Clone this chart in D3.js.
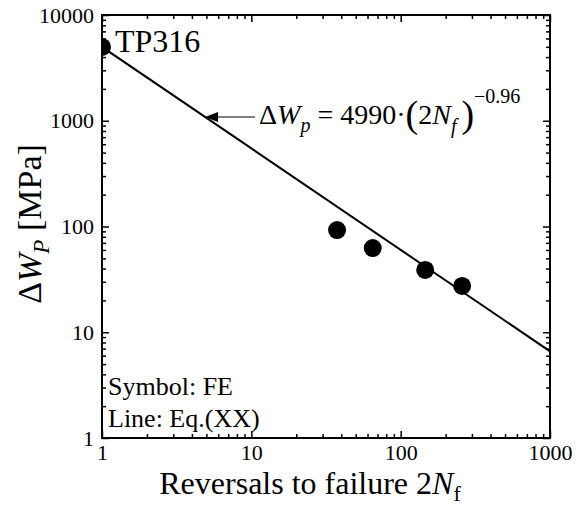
<!DOCTYPE html>
<html>
<head>
<meta charset="utf-8">
<script src="https://cdn.jsdelivr.net/npm/d3@7"></script>
<style>
  body { margin: 0; background: #fff; }
  svg text { font-family: "Liberation Serif", "Times New Roman", Times, serif; fill: #000; }
</style>
</head>
<body>
<svg id="chart" width="577" height="510"></svg>
<script>
// reversals to failure 2Nf and plastic strain energy (FE results)
const reversals = [1, 37.5, 65, 146, 258];
const energy = [4990, 92.5, 62.5, 38.8, 27.4];

// Eq.(XX) line, endpoints
const fitReversals = [1, 1000];
const fitEnergy = [4990, 6.6];

const xMajor = [1, 10, 100, 1000];
const yMajor = [1, 10, 100, 1000, 10000];

// arrow target on the fitted line
const arrowAt = [4.9, 1085];

const serif = "'Liberation Serif', 'Times New Roman', Times, serif";

const margin = { top: 15, right: 27, bottom: 72, left: 102 };
const width = 577, height = 510;
const innerW = width - margin.left - margin.right;
const innerH = height - margin.top - margin.bottom;

const svg = d3.select("#chart");
const g = svg.append("g")
  .attr("transform", "translate(" + margin.left + "," + margin.top + ")");

const x = d3.scaleLog().domain([1, 1000]).range([0, innerW]);
const y = d3.scaleLog().domain([1, 10000]).range([innerH, 0]);

// minor ticks 2..9 in each decade
function minors(majors) {
  let out = [];
  for (let i = 0; i < majors.length - 1; i++) {
    for (let k = 2; k < 10; k++) out.push(majors[i] * k);
  }
  return out;
}
const xMinor = minors(xMajor);
const yMinor = minors(yMajor);

function styleAxis(sel) {
  sel.attr("font-family", serif).attr("font-size", 22);
  sel.select(".domain").remove();
  sel.selectAll("line").attr("stroke", "#000").attr("stroke-width", 1.5);
  sel.selectAll("text")
    .style("font-family", serif)
    .style("font-size", "22px")
    .attr("fill", "#000");
}

// bottom
g.append("g").attr("transform", "translate(0," + innerH + ")")
  .call(d3.axisBottom(x).tickValues(xMajor).tickSize(-7).tickPadding(6).tickFormat(d3.format("d")))
  .call(styleAxis);
g.append("g").attr("transform", "translate(0," + innerH + ")")
  .call(d3.axisBottom(x).tickValues(xMinor).tickSize(-4).tickFormat(""))
  .call(styleAxis);
// top
g.append("g")
  .call(d3.axisTop(x).tickValues(xMajor).tickSize(-7).tickFormat(""))
  .call(styleAxis);
g.append("g")
  .call(d3.axisTop(x).tickValues(xMinor).tickSize(-4).tickFormat(""))
  .call(styleAxis);
// left
g.append("g")
  .call(d3.axisLeft(y).tickValues(yMajor).tickSize(-7).tickPadding(8).tickFormat(d3.format("d")))
  .call(styleAxis);
g.append("g")
  .call(d3.axisLeft(y).tickValues(yMinor).tickSize(-4).tickFormat(""))
  .call(styleAxis);
// right
g.append("g").attr("transform", "translate(" + innerW + ",0)")
  .call(d3.axisRight(y).tickValues(yMajor).tickSize(-7).tickFormat(""))
  .call(styleAxis);
g.append("g").attr("transform", "translate(" + innerW + ",0)")
  .call(d3.axisRight(y).tickValues(yMinor).tickSize(-4).tickFormat(""))
  .call(styleAxis);

// clip to the plot box
svg.append("defs").append("clipPath").attr("id", "plotClip")
  .append("rect").attr("width", innerW).attr("height", innerH);

const plot = g.append("g").attr("clip-path", "url(#plotClip)");

plot.append("path")
  .datum(fitReversals.map((d, i) => [d, fitEnergy[i]]))
  .attr("fill", "none")
  .attr("stroke", "#000")
  .attr("stroke-width", 2)
  .attr("d", d3.line().x(d => x(d[0])).y(d => y(d[1])));

plot.selectAll(".pt")
  .data(reversals.map((d, i) => [d, energy[i]]))
  .enter()
  .append("circle")
  .attr("class", "pt")
  .attr("cx", d => x(d[0]))
  .attr("cy", d => y(d[1]))
  .attr("r", 9)
  .attr("fill", "#000");

// frame
g.append("rect")
  .attr("width", innerW).attr("height", innerH)
  .attr("fill", "none").attr("stroke", "#000").attr("stroke-width", 2);

// arrow annotation
const ax = x(arrowAt[0]), ay = y(arrowAt[1]);
g.append("line")
  .attr("x1", ax + 10).attr("y1", ay)
  .attr("x2", ax + 50).attr("y2", ay)
  .attr("stroke", "#000").attr("stroke-width", 1.2);
g.append("path")
  .attr("d", "M" + ax + "," + ay + "L" + (ax + 13) + "," + (ay - 5) + "L" + (ax + 13) + "," + (ay + 5) + "Z")
  .attr("fill", "#000");

const eq = g.append("text")
  .attr("x", ax + 54).attr("y", ay + 7)
  .style("font-size", "28px");
eq.append("tspan").text("\u0394");
eq.append("tspan").style("font-style", "italic").text("W");
eq.append("tspan").attr("dy", 8).style("font-style", "italic").style("font-size", "20px").text("p");
eq.append("tspan").attr("dy", -8).text(" = 4990\u00B7");
eq.append("tspan").style("font-size", "38px").attr("dy", 3).text("(");
eq.append("tspan").attr("dy", -3).text("2");
eq.append("tspan").style("font-style", "italic").text("N");
eq.append("tspan").attr("dy", 9).style("font-style", "italic").style("font-size", "20px").text("f");
eq.append("tspan").attr("dy", -6).attr("dx", 5).style("font-size", "38px").text(")");
eq.append("tspan").attr("dy", -24).style("font-size", "20px").text("\u22120.96");

// labels inside the plot
g.append("text").attr("x", 13).attr("y", 37)
  .style("font-size", "32px").text("TP316");
g.append("text").attr("x", 6).attr("y", 380)
  .style("font-size", "26px").text("Symbol: FE");
g.append("text").attr("x", 6).attr("y", 412)
  .style("font-size", "26px").text("Line: Eq.(XX)");

// axis titles
const xt = svg.append("text")
  .attr("x", 310).attr("y", 494)
  .attr("text-anchor", "middle")
  .style("font-size", "32px");
xt.append("tspan").text("Reversals to failure 2");
xt.append("tspan").style("font-style", "italic").text("N");
xt.append("tspan").attr("dy", 7).style("font-size", "22px").text("f");

const yt = svg.append("text")
  .attr("transform", "translate(41,224) rotate(-90)")
  .attr("text-anchor", "middle")
  .style("font-size", "34px");
yt.append("tspan").text("\u0394");
yt.append("tspan").style("font-style", "italic").text("W");
yt.append("tspan").attr("dy", 8).style("font-style", "italic").style("font-size", "23px").text("P");
yt.append("tspan").attr("dy", -8).text(" [MPa]");
</script>
</body>
</html>
